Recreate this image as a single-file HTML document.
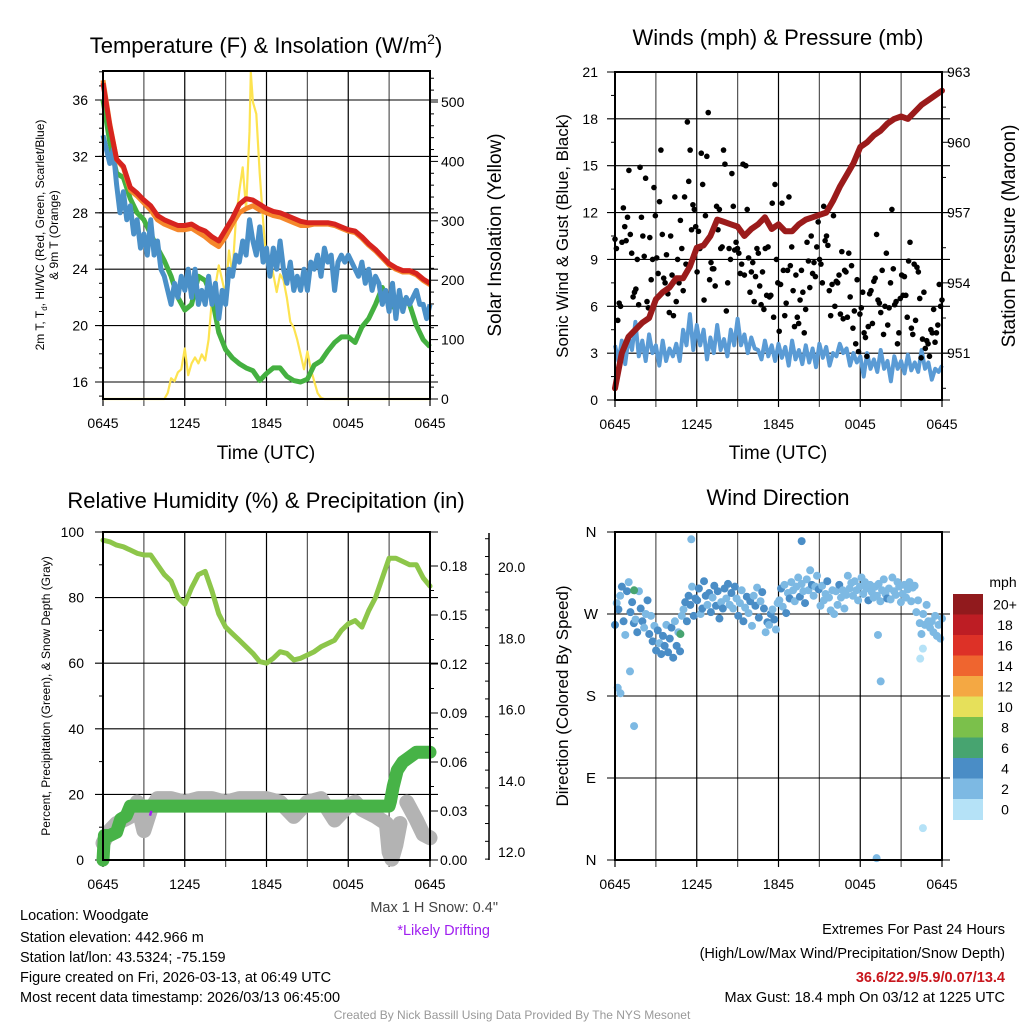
<!DOCTYPE html>
<html><head><meta charset="utf-8"><style>
html,body{margin:0;padding:0;background:#fff}
svg{display:block;font-family:"Liberation Sans",Arial,sans-serif}
</style></head><body>
<svg id="fig" width="1024" height="1024" viewBox="0 0 1024 1024" xmlns="http://www.w3.org/2000/svg">
<text x="266" y="53" font-size="22" text-anchor="middle">Temperature (F) &amp; Insolation (W/m<tspan font-size="14" dy="-9">2</tspan><tspan dy="9">)</tspan></text>
<text x="778" y="45" font-size="22" text-anchor="middle">Winds (mph) &amp; Pressure (mb)</text>
<text x="266" y="508" font-size="22" text-anchor="middle">Relative Humidity (%) &amp; Precipitation (in)</text>
<text x="778" y="505" font-size="22" text-anchor="middle">Wind Direction</text>
<text x="266" y="459" font-size="19" text-anchor="middle">Time (UTC)</text>
<text x="778" y="459" font-size="19" text-anchor="middle">Time (UTC)</text>
<text transform="translate(44,235) rotate(-90)" font-size="12" text-anchor="middle">2m T, T<tspan font-size="8" dy="3">d</tspan><tspan dy="-3">, HI/WC (Red, Green, Scarlet/Blue)</tspan></text>
<text transform="translate(58,235) rotate(-90)" font-size="12" text-anchor="middle">&amp; 9m T (Orange)</text>
<text transform="translate(501,235) rotate(-90)" font-size="19" text-anchor="middle">Solar Insolation (Yellow)</text>
<text transform="translate(568,236) rotate(-90)" font-size="17" text-anchor="middle">Sonic Wind &amp; Gust (Blue, Black)</text>
<text transform="translate(1015,236) rotate(-90)" font-size="19" text-anchor="middle">Station Pressure (Maroon)</text>
<text transform="translate(50,696) rotate(-90)" font-size="12" text-anchor="middle">Percent, Precipitation (Green), &amp; Snow Depth (Gray)</text>
<text transform="translate(568,696) rotate(-90)" font-size="17" text-anchor="middle">Direction (Colored By Speed)</text>
<g font-size="14.5">
<text x="20" y="920">Location: Woodgate</text>
<text x="20" y="942">Station elevation: 442.966 m</text>
<text x="20" y="962">Station lat/lon: 43.5324; -75.159</text>
<text x="20" y="982">Figure created on Fri, 2026-03-13, at 06:49 UTC</text>
<text x="20" y="1002">Most recent data timestamp: 2026/03/13 06:45:00</text>
</g>
<text x="498" y="912" font-size="14.5" fill="#444" text-anchor="end">Max 1 H Snow: 0.4"</text>
<text x="490" y="935" font-size="14.5" fill="#a020f0" text-anchor="end">*Likely Drifting</text>
<g font-size="14.5" text-anchor="end">
<text x="1005" y="934">Extremes For Past 24 Hours</text>
<text x="1005" y="958">(High/Low/Max Wind/Precipitation/Snow Depth)</text>
<text x="1005" y="982" fill="#c8161d" font-weight="bold">36.6/22.9/5.9/0.07/13.4</text>
<text x="1005" y="1002">Max Gust: 18.4 mph On 03/12 at 1225 UTC</text>
</g>
<text x="512" y="1019" font-size="12" fill="#999" text-anchor="middle">Created By Nick Bassill Using Data Provided By The NYS Mesonet</text>
</svg>
<script>
// ---------- DATA ----------
const xTickLabels = ["0645","1245","1845","0045","0645"];
const tempTicks = [16,20,24,28,32,36];
const solarTicks = [0,100,200,300,400,500];
const windTicks = [0,3,6,9,12,15,18,21];
const presTicks = [951,954,957,960,963];
const rhTicks = [0,20,40,60,80,100];
const precipTicks = [0,0.03,0.06,0.09,0.12,0.15,0.18];
const snowTicks = [12,14,16,18,20];
const dirTickLabels = ["N","E","S","W","N"];
const dirTickValues = [0,90,180,270,360];
const cbLabels = ["0","2","4","6","8","10","12","14","16","18","20+"];
const cbColors = ["#b5e2f7","#7db9e3","#4a8dc6","#47a470","#7bc04b","#e6e05a","#f4a843","#ef652f","#dd3127","#bd1d24","#911a1d"];

const tempTimes = [0,0.5,1,1.5,2,2.5,3,3.5,4,4.5,5,5.5,6,6.5,7,7.5,8,8.5,9,9.5,10,10.5,11,11.5,12,12.5,13,13.5,14,14.5,15,15.5,16,16.5,17,17.5,18,18.5,19,19.5,20,20.5,21,21.5,22,22.5,23,23.5,24];
const redT = [37.2,34.2,31.8,31.3,29.8,29.4,28.9,28.5,27.8,27.5,27.3,27.1,27.1,27.2,26.9,26.7,26.3,26.0,26.8,27.6,28.6,29.0,28.9,28.6,28.3,28.1,28.0,27.8,27.6,27.4,27.3,27.3,27.3,27.3,27.2,27.0,26.8,26.7,26.3,25.8,25.4,24.9,24.4,24.1,23.9,23.9,23.7,23.3,23.0];
const orangeT = [37.4,34.3,31.8,31.2,29.6,29.2,28.7,28.2,27.5,27.2,27.0,26.8,26.8,26.9,26.6,26.3,25.9,25.6,26.3,27.2,28.0,28.3,28.5,28.2,28.0,27.8,27.7,27.5,27.3,27.1,27.1,27.2,27.2,27.2,27.1,26.9,26.7,26.6,26.2,25.7,25.3,24.8,24.3,24.0,23.8,23.8,23.6,23.2,22.9];
const greenT = [36.0,33.0,30.8,30.5,29.0,28.0,27.5,26.5,25.5,24.6,23.5,22.0,21.1,21.5,23.5,23.2,22.0,19.5,18.3,17.7,17.3,17.0,16.8,16.1,16.6,17.0,17.0,16.4,16.1,16.0,16.2,17.2,17.5,18.2,18.8,19.2,19.2,18.8,19.9,20.5,21.5,22.7,21.5,21.2,21.8,21.5,20.0,19.0,18.5];
const blueT = [33.5,32.5,31.5,32.5,30,28,29.5,27.5,28.5,26.5,27.5,25.5,26.5,25,27.5,25,26,24,23.5,22.5,21.5,23,22,23.5,22.5,24,22,24,21.5,22.5,21.5,23.5,21.5,23,20.5,22.5,21.5,24,23.5,25,24.5,26,25,27.5,26,25,27,24.5,25.5,23.5,25.5,24,26,24,23,24.5,22.5,23.5,22.5,24,22.5,24.5,24,25,23.5,25.5,24.5,25,22.5,24.5,25,24.5,25,24.5,24,23.5,24.5,23,24,22.5,23.5,23,21.5,22.5,21,23,20.5,22.5,21,22,21.5,22,22.5,21.5,21.5,20.5,21.5];
const solarTimes = [0,4.5,4.75,5,5.25,5.5,5.75,6,6.25,6.5,6.75,7,7.25,7.5,7.75,8,8.25,8.5,8.75,9,9.25,9.5,9.75,10,10.25,10.5,10.75,10.85,11,11.25,11.5,11.75,12,12.25,12.5,12.75,13,13.25,13.5,13.75,14,14.25,14.5,14.75,15,15.25,15.5,15.75,16,16.25,24];
const solarV = [0,0,10,35,30,45,50,85,40,60,70,60,75,65,100,170,190,225,200,175,250,210,300,350,390,320,450,550,500,480,380,300,230,240,210,180,210,200,170,130,120,100,75,50,80,50,30,10,2,0,0];

const presTimes = tempTimes;
const presV = [949.5,951.0,951.7,952.0,952.3,952.5,953.3,953.6,953.8,954.2,954.2,954.7,955.5,955.6,956.0,956.7,956.6,956.5,956.4,956.0,956.3,956.5,956.8,956.3,956.5,956.2,956.2,956.5,956.7,956.8,956.9,957.0,957.5,958.1,958.6,959.1,959.8,960.0,960.3,960.5,960.8,961.0,961.1,961.0,961.3,961.6,961.8,962.0,962.2];
const windV = [3.5,2.5,3.8,2.3,4.0,3.2,5.0,2.8,3.8,2.5,4.2,3.0,3.5,2.2,3.8,2.5,3.3,2.8,3.6,2.5,4.5,3.5,5.5,3.2,4.8,3.5,4.5,2.6,4.0,3.0,4.8,3.2,3.9,2.8,4.5,3.5,5.2,3.5,4.2,3.0,4.0,3.3,3.2,2.6,3.8,2.8,3.5,2.5,3.6,2.7,3.4,2.2,3.8,2.6,3.2,2.3,3.5,2.4,3.3,2.1,3.6,2.7,3.4,2.2,3.0,2.8,3.6,3.0,3.3,2.2,3.0,2.4,2.8,1.5,3.0,2.0,2.6,1.8,3.2,2.0,2.5,1.2,2.8,2.0,2.5,1.7,2.9,1.9,2.4,1.8,3.2,2.0,2.4,1.3,2.0,1.8,2.2];
const gustV = [10.3,9.7,5.1,6.2,6.0,10.1,12.3,11.1,10.2,11.7,14.7,10.6,9.4,6.6,6.9,7.1,9.0,6.1,14.9,11.7,10.5,9.2,14.2,6.3,5.9,10.4,7.7,9.0,13.6,11.8,9.1,8.1,12.7,16.0,10.6,7.8,7.5,9.3,6.8,5.6,10.5,8.0,5.4,13.0,6.3,9.0,7.5,11.5,9.7,7.0,13.0,8.7,17.8,14.0,16.0,10.9,12.5,12.2,11.1,8.2,10.8,9.7,15.8,13.8,6.4,11.8,15.6,18.4,7.7,8.8,8.4,8.4,7.3,12.4,10.9,12.2,9.7,9.8,16.0,15.1,5.7,7.5,9.7,9.0,14.5,12.4,9.6,10.1,9.7,9.4,8.1,8.7,15.1,8.0,15.0,12.2,9.1,6.9,8.2,8.8,6.3,7.9,9.7,9.4,7.3,6.1,8.2,5.8,9.7,6.7,9.8,6.6,6.7,12.6,5.3,13.8,9.0,7.5,4.4,7.4,12.6,8.3,5.4,6.2,8.3,13.0,8.6,9.8,7.0,4.7,8.0,5.3,4.9,6.4,8.3,6.9,4.3,5.8,10.1,8.9,7.2,10.5,8.1,8.8,7.9,9.8,11.4,9.0,8.7,7.5,12.4,10.2,10.5,9.9,7.0,5.4,7.4,11.8,6.0,7.6,7.5,8.0,5.5,9.5,5.2,8.3,8.2,5.3,9.4,6.6,8.6,4.6,5.7,3.6,7.7,3.1,5.5,5.9,6.9,4.3,4.0,2.8,4.7,6.8,7.0,4.9,7.6,7.8,10.6,6.4,6.2,5.6,8.3,4.2,6.0,9.4,4.8,5.9,7.5,12.2,8.4,6.1,6.3,3.6,4.3,6.5,8.0,6.7,7.9,6.7,5.3,8.9,10.1,4.6,4.2,8.7,5.1,8.5,8.2,6.5,2.7,3.9,6.9,3.3,3.8,3.6,2.8,4.5,4.3,5.8,3.7,4.3,4.8,7.4,6.0,6.4];

const rhTimes = tempTimes;
const rhV = [97.5,97,96,95.5,94.5,93.5,93,93,90,87,85,80,78,83,87,88,82,75,71,69,67,65,63,60.5,60,61.5,63.5,63,61,61.5,62.5,63.5,65,66,67,70,72,73,71,76,80,86,92,92,91,90,90,86,83.5];
const precipTimes = [0,0.1,0.5,1.0,1.3,1.7,2.0,3,6,9,12,15,18,21,21.1,21.3,21.6,22,22.5,23,24];
const precipV = [0,0.015,0.015,0.017,0.025,0.027,0.033,0.033,0.033,0.033,0.033,0.033,0.033,0.033,0.036,0.045,0.055,0.06,0.063,0.066,0.066];
const snowTimes = [0,0.5,1,1.5,2,2.5,3,3.5,4,5,6,7,8,9,10,11,12,13,14,15,16,17,18,18.5,19,20,20.8,21,21.2,21.5,21.8,22.0,22.3,23,23.5,24];
const snowV = [12.25,12.6,12.8,12.9,13.0,13.4,12.6,13.2,13.5,13.5,13.4,13.5,13.5,13.4,13.5,13.5,13.5,13.4,13.0,13.4,13.5,12.9,13.3,13.4,13.2,13.0,12.8,12.0,11.8,12.2,12.8,null,13.4,12.9,12.5,12.4];

const dirV = [258,282,275,290,300,262,247,295,305,272,283,260,264,250,295,276,262,255,270,285,248,268,240,257,230,252,238,226,246,235,258,228,243,255,222,262,235,250,229,268,275,283,262,290,280,300,268,287,285,298,270,276,306,290,280,293,272,288,301,279,295,265,283,276,298,287,303,280,293,276,300,287,268,282,296,262,277,289,271,284,257,290,279,299,266,284,294,276,250,261,258,270,275,264,253,282,285,298,278,302,271,293,287,305,296,284,300,310,289,303,295,282,308,296,318,302,290,300,312,297,279,301,285,292,306,288,274,296,270,295,280,302,288,296,276,291,312,298,304,290,306,296,285,300,310,292,305,298,285,302,294,288,300,290,303,284,296,308,292,287,298,286,310,295,291,305,300,283,292,302,288,297,305,284,299,301,272,285,260,248,270,258,280,262,255,262,250,268,246,258,243,265];
const dirClass = "212122121222121221122121221222122221212112222122221222122122221221212121211212121121212212121211121121211111211211121112111121111112111111111101111121111111111211111101111101111110111101111111111";
const outTimes = [0.2,0.4,1.1,1.4,5.6,13.7,19.3,19.5,19.2,22.6,22.4,22.6,4.8,1.4];
const outDir = [189,183,207,147,352,350,247,196,2,35,221,232,248,296];
const outClass = [1,1,1,1,1,2,1,1,1,0,0,0,3,3];

// ---------- HELPERS ----------
const NS="http://www.w3.org/2000/svg";
const svg=document.getElementById('fig');
function mk(tag,attrs,name,parent){
  const el=document.createElementNS(NS,tag);
  for(const k in attrs) el.setAttribute(k,attrs[k]);
  
  
  (parent||svg).appendChild(el);
  return el;
}
function txt(x,y,s,size,anchor,name,fill){
  const t=mk('text',{x:x,y:y,'font-size':size,'text-anchor':anchor||'middle',fill:fill||'#000'},name);
  t.textContent=s;return t;
}
function polyPath(ts,vs,fx,fy){
  let d='',pen=false;
  for(let i=0;i<vs.length;i++){
    if(vs[i]===null||vs[i]===undefined){pen=false;continue;}
    d+=(pen?'L':'M')+fx(ts[i]).toFixed(1)+','+fy(vs[i]).toFixed(1);pen=true;
  }
  return d;
}
function idxTimes(n){const a=[];for(let i=0;i<n;i++)a.push(i*24/(n-1));return a;}

// time grid + frame for a panel
function frame(x0,x1,y0,y1,prefix){
  const xs=t=>x0+t/24*(x1-x0);
  for(let h=0;h<=24;h+=3){
    const x=xs(h);
    mk('line',{x1:x,y1:y0,x2:x,y2:y1+7,stroke:(h%6===3)?'#555':'#000','stroke-width':1.2},prefix+'-vgrid');
  }
  for(let i=0;i<5;i++) txt(xs(i*6),y1+29,xTickLabels[i],14,'middle',prefix+'-x-tick-label');
  return xs;
}
function hgrid(x0,x1,y,prefix){mk('line',{x1:x0-8,y1:y,x2:x1+8,y2:y,stroke:'#000','stroke-width':1.1},prefix+'-hgrid');}
function box(x0,x1,y0,y1,prefix){mk('rect',{x:x0,y:y0,width:x1-x0,height:y1-y0,fill:'none',stroke:'#000','stroke-width':2},prefix+'-frame');}

// ---------- PANEL 1 ----------
(function(){
  const x0=103,x1=430,y0=71,y1=399;
  const xs=frame(x0,x1,y0,y1,'temp');
  const yT=v=>382-(v-16)*14.1, yS=v=>399-v*0.594;
  tempTicks.forEach(v=>{hgrid(x0,x1,yT(v),'temp');txt(88,yT(v)+5,String(v),14,'end','temp-y-tick-label');});
  for(let v=15;v<=38;v++) mk('line',{x1:x0-4,y1:yT(v),x2:x0,y2:yT(v),stroke:'#000'},'temp-minor-tick');
  for(let v=0;v<=540;v+=20) mk('line',{x1:x1,y1:yS(v),x2:x1+(v%100===0?8:4),y2:yS(v),stroke:'#000'},'solar-tick');
  solarTicks.forEach(v=>txt(441,yS(v)+5,String(v),14,'start','solar-tick-label'));
  const g=mk('g',{'clip-path':'none'},'temp-series');
  mk('path',{d:polyPath(solarTimes,solarV,xs,yS),fill:'none',stroke:'#fde350','stroke-width':2.2,'stroke-linejoin':'round'},'solar-line',g);
  mk('path',{d:polyPath(tempTimes,greenT,xs,yT),fill:'none',stroke:'#44b040','stroke-width':5,'stroke-linejoin':'round'},'dewpoint-line',g);
  mk('path',{d:polyPath(idxTimes(blueT.length),blueT,xs,yT),fill:'none',stroke:'#4a90c8','stroke-width':5,'stroke-linejoin':'round'},'windchill-line',g);
  mk('path',{d:polyPath(tempTimes,orangeT,xs,yT),fill:'none',stroke:'#f5872b','stroke-width':5,'stroke-linejoin':'round'},'temp-9m-line',g);
  mk('path',{d:polyPath(tempTimes,redT,xs,yT),fill:'none',stroke:'#d7241f','stroke-width':5,'stroke-linejoin':'round'},'temp-2m-line',g);
  box(x0,x1,y0,y1,'temp');
})();

// ---------- PANEL 2 ----------
(function(){
  const x0=615,x1=942,y0=72,y1=400;
  const xs=frame(x0,x1,y0,y1,'wind');
  const yW=v=>400-v*328/21, yP=p=>400-(p-949)*328/14;
  windTicks.forEach(v=>{hgrid(x0,x1,yW(v),'wind');txt(598,yW(v)+5,String(v),14,'end','wind-y-tick-label');});
  for(let v=1.5;v<21;v+=3) mk('line',{x1:x0-4,y1:yW(v),x2:x0,y2:yW(v),stroke:'#000'},'wind-minor-tick');
  for(let p=949.5;p<=963;p+=1.5) mk('line',{x1:x1,y1:yP(p),x2:x1+((p-951)%3===0?8:4),y2:yP(p),stroke:'#000'},'pressure-tick');
  presTicks.forEach(p=>txt(947,yP(p)+5,String(p),14,'start','pressure-tick-label'));
  mk('path',{d:polyPath(idxTimes(windV.length),windV,xs,yW),fill:'none',stroke:'#5a9bd5','stroke-width':4,'stroke-linejoin':'round'},'sustained-wind-line');
  const gT=idxTimes(gustV.length);
  for(let i=0;i<gustV.length;i++){
    const c=mk('circle',{cx:xs(gT[i]),cy:yW(gustV[i]),r:2.8,fill:'#000'},'gust-point');
  }
  mk('path',{d:polyPath(presTimes,presV,xs,yP),fill:'none',stroke:'#9b1b1b','stroke-width':6,'stroke-linejoin':'round','stroke-linecap':'round'},'pressure-line');
  box(x0,x1,y0,y1,'wind');
})();

// ---------- PANEL 3 ----------
(function(){
  const x0=103,x1=430,y0=532,y1=860;
  const xs=frame(x0,x1,y0,y1,'rh');
  const yR=v=>860-v*3.28, yPr=v=>860-v/0.18*294, ySn=v=>852-(v-12)*35.6;
  rhTicks.forEach(v=>{hgrid(x0,x1,yR(v),'rh');txt(84,yR(v)+5,String(v),14,'end','rh-y-tick-label');});
  for(let v=10;v<100;v+=20) mk('line',{x1:x0-4,y1:yR(v),x2:x0,y2:yR(v),stroke:'#000'},'rh-minor-tick');
  for(let v=0;v<=0.19;v+=0.015) mk('line',{x1:x1,y1:yPr(v),x2:x1+(Math.round(v*1000)%30===0?8:4),y2:yPr(v),stroke:'#000'},'precip-tick');
  precipTicks.forEach(v=>txt(440,yPr(v)+5,v.toFixed(2),14,'start','precip-tick-label'));
  mk('line',{x1:489,y1:533,x2:489,y2:860,stroke:'#000','stroke-width':1.5},'snow-axis-line');
  for(let v=11.8;v<=21;v+=0.5) mk('line',{x1:489-(Math.abs(v-Math.round(v/2)*2)<0.01?8:4),y1:ySn(v),x2:489,y2:ySn(v),stroke:'#000'},'snow-tick');
  snowTicks.forEach(v=>txt(498,ySn(v)+5,v.toFixed(1),14,'start','snow-tick-label'));
  mk('path',{d:polyPath(snowTimes,snowV,xs,ySn),fill:'none',stroke:'#b3b3b3','stroke-width':15,'stroke-linejoin':'round','stroke-linecap':'round'},'snow-depth-line');
  mk('path',{d:polyPath(precipTimes,precipV,xs,yPr),fill:'none',stroke:'#47b347','stroke-width':13,'stroke-linejoin':'round','stroke-linecap':'round'},'precip-line');
  mk('line',{x1:xs(3.45),y1:yR(13.5),x2:xs(3.55),y2:yR(15),stroke:'#a020f0','stroke-width':2.5},'drifting-marker');
  mk('path',{d:polyPath(rhTimes,rhV,xs,yR),fill:'none',stroke:'#8dc64a','stroke-width':5,'stroke-linejoin':'round','stroke-linecap':'round'},'rh-line');
  box(x0,x1,y0,y1,'rh');
})();

// ---------- PANEL 4 ----------
(function(){
  const x0=615,x1=942,y0=532,y1=860;
  const xs=frame(x0,x1,y0,y1,'dir');
  const yD=d=>860-d*328/360;
  dirTickValues.forEach((d,i)=>{hgrid(x0,x1,yD(d),'dir');txt(591,yD(d)+5,dirTickLabels[i],15,'middle','dir-y-tick-label');});
  const dT=idxTimes(dirV.length);
  const cmap=[cbColors[0],cbColors[1],cbColors[2],cbColors[3]];
  for(let i=0;i<dirV.length;i++){
    const c=mk('circle',{cx:xs(dT[i]),cy:yD(dirV[i]),r:4,fill:cmap[+dirClass[i]||1]},'direction-point');
  }
  for(let i=0;i<outDir.length;i++){
    const c=mk('circle',{cx:xs(outTimes[i]),cy:yD(outDir[i]),r:4,fill:cmap[outClass[i]]},'direction-outlier-point');
  }
  box(x0,x1,y0,y1,'dir');
  // colorbar
  const cbTop=594,segH=20.5,cbX=953,cbW=30;
  txt(1003,587,'mph',14,'middle','colorbar-title');
  for(let i=0;i<cbColors.length;i++){
    const k=cbColors.length-1-i;
    const y=cbTop+i*segH;
    mk('rect',{x:cbX,y:y,width:cbW,height:segH+0.5,fill:cbColors[k]},'colorbar-segment');
    txt(1005,y+segH/2+5,cbLabels[k],14,'middle','colorbar-label');
  }
})();
</script>
</body></html>
